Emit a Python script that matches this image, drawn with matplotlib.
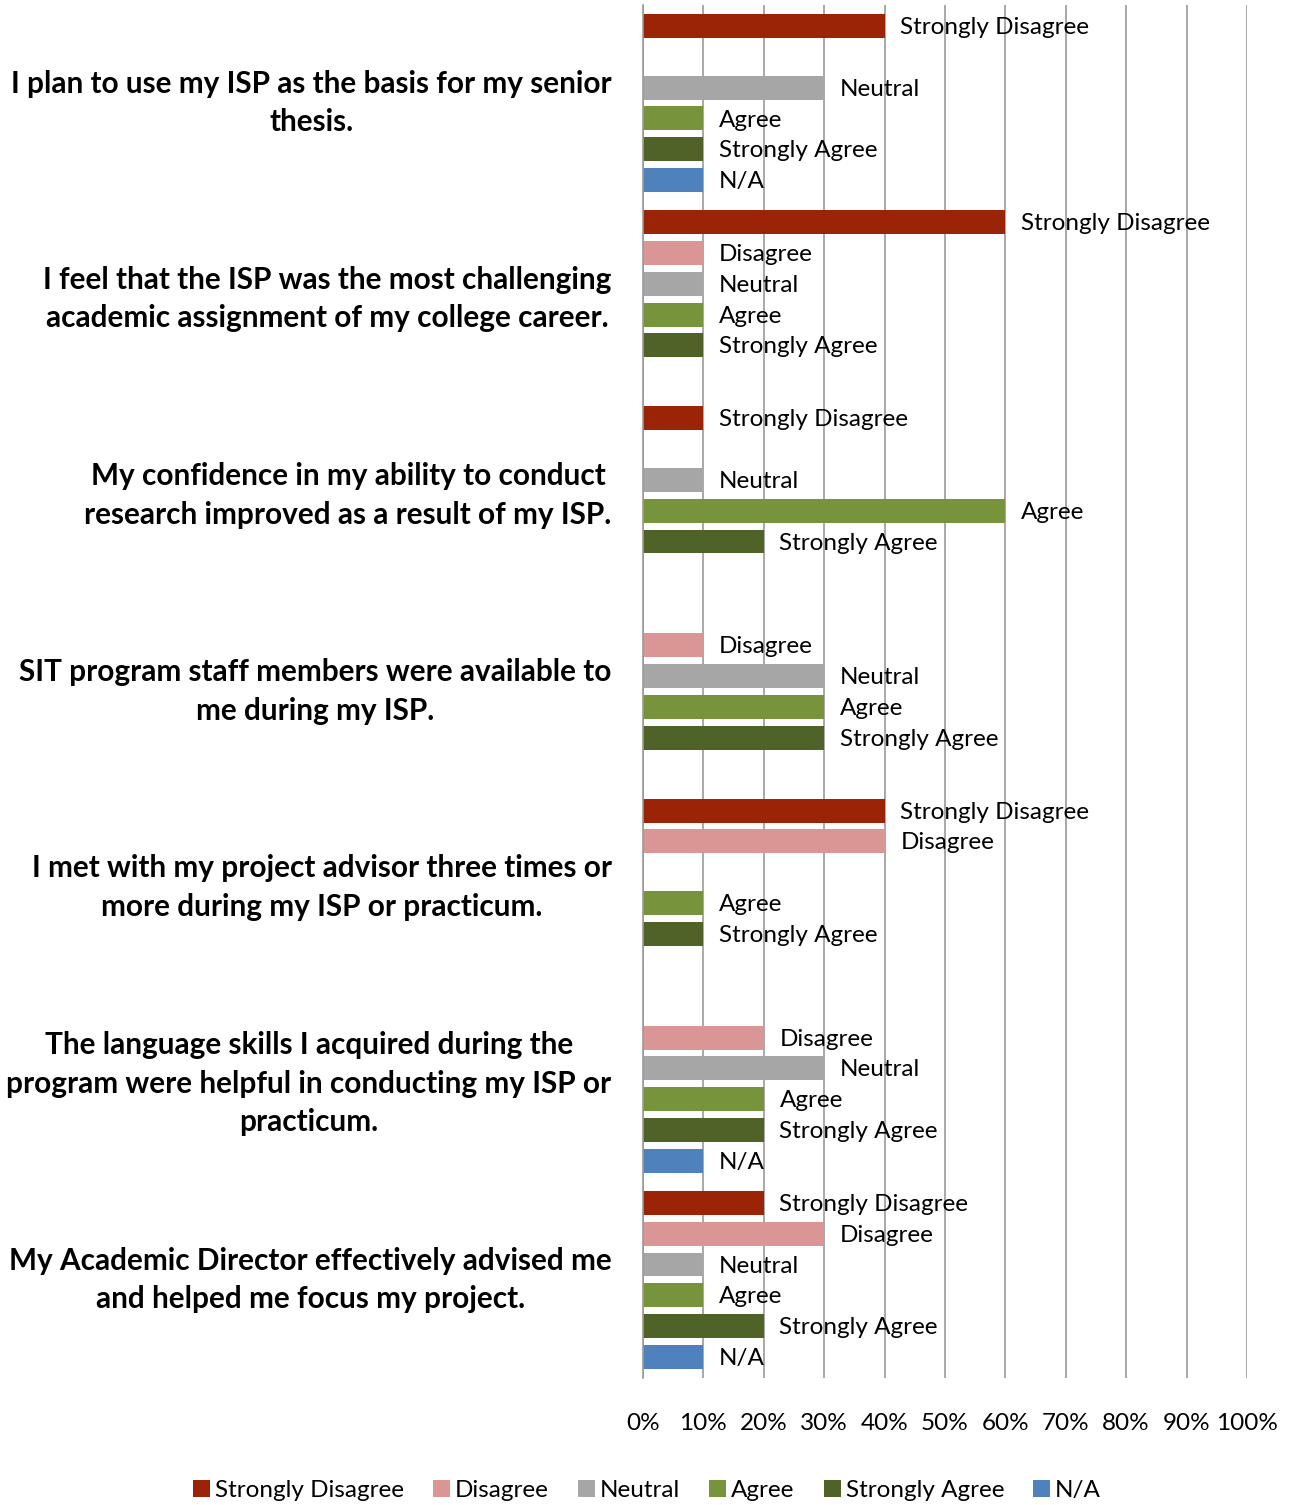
import matplotlib
matplotlib.use('Agg')
import matplotlib.pyplot as plt
import numpy as np

plt.rcParams['font.family'] = ['Lato', 'DejaVu Sans']

questions = [
    'I plan to use my ISP as the basis for my senior\nthesis.',
    'I feel that the ISP was the most challenging\nacademic assignment of my college career.',
    'My confidence in my ability to conduct\nresearch improved as a result of my ISP.',
    'SIT program staff members were available to\nme during my ISP.',
    'I met with my project advisor three times or\nmore during my ISP or practicum.',
    'The language skills I acquired during the\nprogram were helpful in conducting my ISP or\npracticum.',
    'My Academic Director effectively advised me\nand helped me focus my project.',
]

series = ['Strongly Disagree', 'Disagree', 'Neutral', 'Agree', 'Strongly Agree', 'N/A']
colors = ['#9B2306', '#DA9694', '#A6A6A6', '#77933C', '#4F6228', '#4F81BD']

# percent of responses per question, one list per answer
strongly_disagree = [40, 60, 10, 0, 40, 0, 20]
disagree = [0, 10, 0, 10, 40, 20, 30]
neutral = [30, 10, 10, 30, 0, 30, 10]
agree = [10, 10, 60, 30, 10, 20, 10]
strongly_agree = [10, 10, 20, 30, 10, 20, 20]
not_applicable = [10, 0, 0, 0, 0, 10, 10]

values = [strongly_disagree, disagree, neutral, agree, strongly_agree, not_applicable]

fig = plt.figure(figsize=(12.89, 15.05), dpi=100)
ax = fig.add_axes([0.4988, 0.0844, 0.4686, 0.9123])

y = np.arange(len(questions))
slot = 0.157
for i, (name, vals, col) in enumerate(zip(series, values, colors)):
    pos = y + (i - 2.5) * slot
    ax.barh(pos, vals, height=0.122, color=col, zorder=2, label=name)
    for p, v in zip(pos, vals):
        if v > 0:
            ax.text(v + 2.6, p + 0.008, name, va='center', ha='left', fontsize=17.5, zorder=3)

ax.set_xlim(0, 100)
ax.set_ylim(len(questions) - 0.5, -0.5)
ax.set_xticks(np.arange(0, 101, 10))
ax.set_xticklabels([f'{t}%' for t in range(0, 101, 10)], fontsize=17.5)
ax.tick_params(axis='x', length=0, pad=25)
ax.set_yticks([])
ax.grid(axis='x', color='#9a9a9a', linewidth=1.2, zorder=0)
for s in ['top', 'right', 'bottom']:
    ax.spines[s].set_visible(False)
ax.spines['left'].set_color('#9a9a9a')
ax.spines['left'].set_linewidth(1.2)

for q, yy in zip(questions, y):
    ax.text(-0.052, yy, q, transform=ax.get_yaxis_transform(), ha='right', va='center',
            multialignment='center', fontsize=21.4, fontweight='bold', linespacing=1.45)

fig.legend(loc='lower center', bbox_to_anchor=(0.502, -0.012), ncol=6, frameon=False,
           fontsize=17.5, handlelength=0.7, handleheight=0.7, handletextpad=0.2,
           columnspacing=1.2)

fig.savefig('out.png', dpi=100)
